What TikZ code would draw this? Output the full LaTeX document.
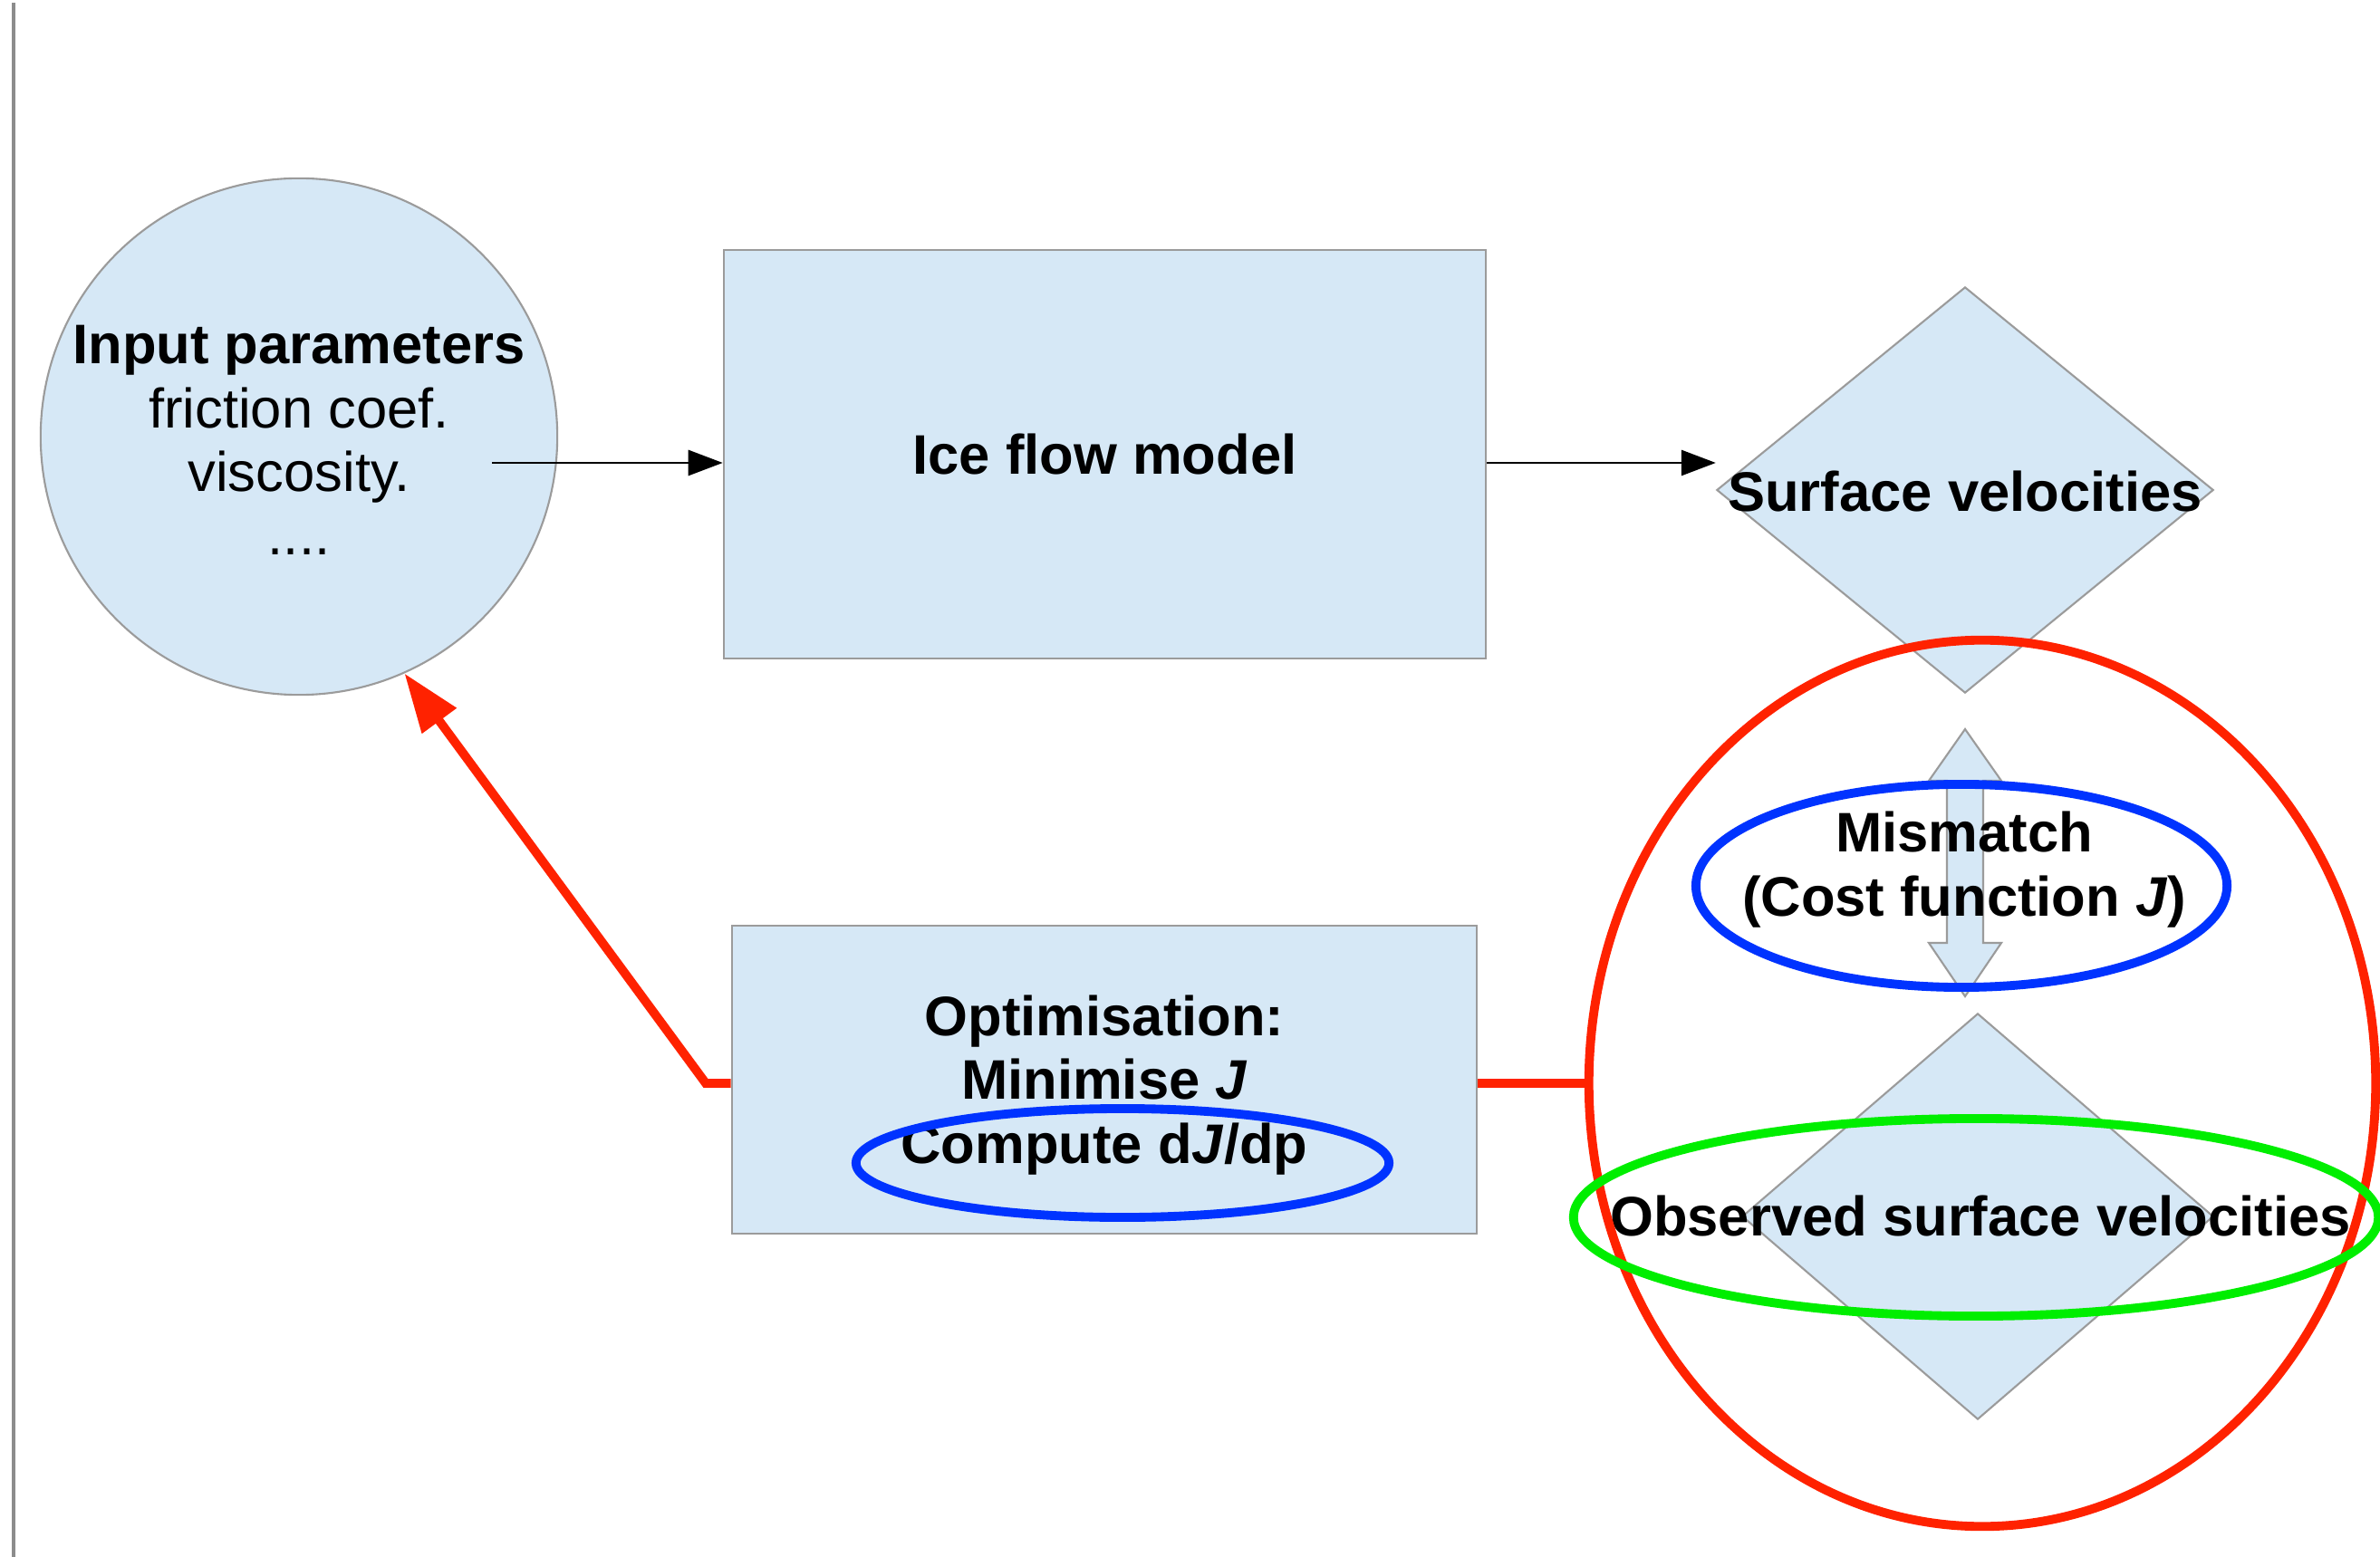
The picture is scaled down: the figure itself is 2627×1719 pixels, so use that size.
\documentclass[tikz,border=0pt]{standalone}
\usepackage{fontspec}
\setmainfont{Liberation Sans}
\usetikzlibrary{shapes.geometric,arrows.meta}
\definecolor{boxfill}{RGB}{214,232,246}
\definecolor{boxline}{RGB}{155,155,155}
\definecolor{hlred}{RGB}{255,34,0}
\definecolor{hlblue}{RGB}{0,51,255}
\definecolor{hlgreen}{RGB}{0,238,0}
\definecolor{rulegray}{RGB}{140,140,140}
\begin{document}
\begin{tikzpicture}[x=0.01cm,y=-0.01cm,
  shapebox/.style={draw=boxline,fill=boxfill,line width=0.6pt,inner sep=0pt},
  txt/.style={align=center,font=\fontsize{17.5}{20}\selectfont,inner sep=0pt,text=black},
  flow/.style={-{Triangle[length=10.8pt,width=8pt]},line width=0.7pt,draw=black},
  hl/.style={line width=2.8pt,inner sep=0pt,ellipse}]
\useasboundingbox (0,0) rectangle (2627,1719);
\fill[white] (0,0) rectangle (2627,1719);
% left rule
\draw[rulegray,line width=0.9pt] (15,3) -- (15,1719);
% shapes
\node[shapebox,circle,minimum size=5.70cm] (inp) at (330,482) {};
\node[shapebox,rectangle,minimum width=8.41cm,minimum height=4.51cm] (ice) at (1219.5,501.5) {};
\node[shapebox,diamond,minimum width=5.48cm,minimum height=4.48cm] (sv) at (2169,541) {};
\node[shapebox,rectangle,minimum width=8.22cm,minimum height=3.40cm] (opt) at (1219,1192) {};
\node[shapebox,diamond,minimum width=5.20cm,minimum height=4.48cm] (obs) at (2183,1343) {};
% double arrow (mismatch)
\coordinate (datop) at (2169,805);
\coordinate (dabot) at (2169,1100);
\draw[shapebox] (datop) -- (2209,862) -- (2189,862) -- (2189,1041) -- (2209,1041) -- (dabot)
  -- (2129,1041) -- (2149,1041) -- (2149,862) -- (2129,862) -- cycle;
% texts
\node[txt] (inptxt) at (330,486) {\textbf{Input parameters}\\friction coef.\\viscosity.\\....};
\node[txt,font=\fontsize{17.5}{20}\selectfont\bfseries] (icetxt) at (ice.center) {Ice flow model};
\node[txt,font=\fontsize{17.5}{20}\selectfont\bfseries] (svtxt) at (2169,543) {Surface velocities};
\node[txt,font=\fontsize{17.5}{20}\selectfont\bfseries] (mmtxt) at (2168,960) {Mismatch\\(Cost function \textit{J})};
\node[txt,font=\fontsize{17.5}{20}\selectfont\bfseries] (opttxt) at (1219,1198) {Optimisation:\\Minimise \textit{J}\\Compute d\textit{J}/dp};
\node[txt,font=\fontsize{17.5}{20}\selectfont\bfseries] (obstxt) at (2186,1342) {Observed surface velocities};
% black connectors
\coordinate (a1) at (543,511);
\draw[flow] (a1) -- (a1 -| ice.west);
\draw[flow] (ice.east |- a1) -- (a1 -| sv.west);
% highlight ellipses
\node[hl,draw=hlred,minimum width=8.68cm,minimum height=9.78cm] (redring) at (2188,1196) {};
\node[hl,draw=hlblue,minimum width=5.86cm,minimum height=2.24cm] (blue1) at (2165,978) {};
\node[hl,draw=hlgreen,minimum width=8.88cm,minimum height=2.18cm] (green1) at (2181,1344) {};
\node[hl,draw=hlblue,minimum width=5.88cm,minimum height=1.20cm] (blue2) at (1239,1284) {};
% red connectors
\coordinate (bend) at (779,1196);
\draw[hlred,line width=2.8pt] (opt.east |- bend) -- (bend -| redring.west);
\draw[hlred,line width=2.8pt,-{Triangle[length=18.5pt,width=12.8pt]}] (opt.west |- bend) -- (bend) -- (inp.-66);
\end{tikzpicture}
\end{document}
